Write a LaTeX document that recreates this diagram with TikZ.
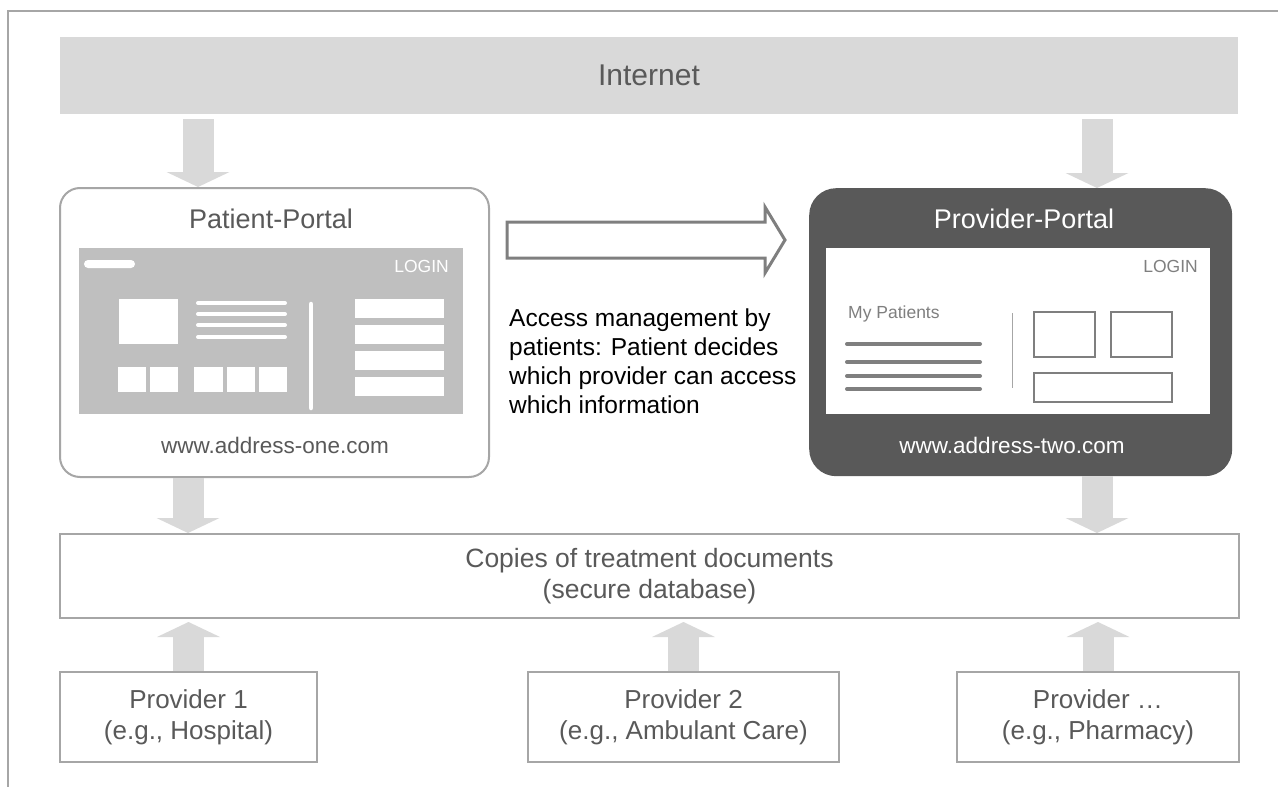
\documentclass[tikz,border=0pt]{standalone}
\usepackage{fontspec}
\setmainfont{Liberation Sans}
\usetikzlibrary{arrows.meta,calc}
\definecolor{tgrey}{HTML}{595959}
\definecolor{lgrey}{HTML}{D9D9D9}
\definecolor{bgrey}{HTML}{A6A6A6}
\definecolor{mgrey}{HTML}{BFBFBF}
\definecolor{dgrey}{HTML}{7F7F7F}
\newcommand{\myfs}[2]{\fontsize{#1}{#2}\selectfont}
\begin{document}
\begin{tikzpicture}[x=1pt,y=-1pt,
  framebox/.style={draw=bgrey, line width=2pt, fill=white, inner sep=0pt, text=tgrey, align=center, anchor=north west},
  blockarrow/.style={draw=lgrey, line width=31pt, -{Triangle[width=63pt,length=15pt,line width=0pt,fill=lgrey]}},
  wline/.style={white, line width=4.5pt, line cap=round},
  gline/.style={dgrey, line width=4.5pt, line cap=round},
  wrect/.style={fill=white},
  orect/.style={draw=dgrey, line width=1.8pt}]
\useasboundingbox (0,0) rectangle (1278,787);
% outer frame
\draw[bgrey, line width=2.5pt] (8,787) -- (8,11) -- (1278,11);
% Internet bar
\node[fill=lgrey, inner sep=0pt, minimum width=1178pt, minimum height=77pt, anchor=north west] (inet) at (60,37) {};
\node[text=tgrey, inner sep=0pt, font=\myfs{30}{30}] (inettxt) at (649,75) {Internet};
% Patient portal
\node[framebox, rounded corners=20pt, minimum width=429pt, minimum height=289pt] (pp) at (59,187) {};
\node[text=tgrey, inner sep=0pt, anchor=base, font=\myfs{27}{27}] (pptitle) at (271,228) {Patient-Portal};
\fill[mgrey] (79,248) rectangle (463,414);
\fill[white, rounded corners=4pt] (84,260) rectangle (135,268);
\node[text=white, inner sep=0pt, anchor=base east, font=\myfs{17.5}{17.5}] (pplogin) at (449,272) {LOGIN};
\fill[wrect] (119,299) rectangle (178,344);
\foreach \yy in {303,314,325,337} \draw[wline, line width=4pt] (198,\yy) -- (285,\yy);
\foreach \xa/\xb in {118/146,150/178,194/223,227/255,259/287} \fill[wrect] (\xa,367) rectangle (\xb,392);
\draw[wline] (311,304) -- (311,408);
\foreach \ya/\yb in {299/318,325/344,351/370,377/396} \fill[wrect] (355,\ya) rectangle (444,\yb);
\node[text=tgrey, inner sep=0pt, anchor=base, font=\myfs{22.5}{22.5}] (ppurl) at (275,453) {www.address-one.com};
% Provider portal
\node[fill=tgrey, rounded corners=27pt, inner sep=0pt, minimum width=423pt, minimum height=288pt, anchor=north west] (vp) at (809,188) {};
\node[text=white, inner sep=0pt, anchor=base, font=\myfs{27}{27}] (vptitle) at (1024,228) {Provider-Portal};
\fill[white] (826,248) rectangle (1210,414);
\node[text=dgrey, inner sep=0pt, anchor=base east, font=\myfs{17.5}{17.5}] (vplogin) at (1198,272) {LOGIN};
\node[text=dgrey, inner sep=0pt, anchor=base west, font=\myfs{17.5}{17.5}] (mypat) at (848,318) {My Patients};
\foreach \yy in {344,362,376,389} \draw[gline, line width=4pt] (847,\yy) -- (980,\yy);
\draw[bgrey, line width=1pt] (1012,313) -- (1012,388);
\draw[orect] (1034,312) rectangle (1095,357);
\draw[orect] (1111,312) rectangle (1172,357);
\draw[orect] (1034,373) rectangle (1172,402);
\node[text=white, inner sep=0pt, anchor=base, font=\myfs{22.5}{22.5}] (vpurl) at (1012,453) {www.address-two.com};
% hollow arrow
\draw[dgrey, line width=3pt, fill=white, line join=miter] (507,222) -- (765,222) -- (765,207) -- (785,240) -- (765,273) -- (765,258) -- (507,258) -- cycle;
\node[inner sep=0pt, anchor=north west, align=left, font=\myfs{24.5}{29}] (access) at (509,309)
  {Access management by\\patients: Patient decides\\which provider can access\\which information};
% database
\node[framebox, minimum width=1179pt, minimum height=84pt, font=\myfs{26.5}{31}] (db) at (59,533)
  {Copies of treatment documents\\(secure database)};
% providers
\node[framebox, minimum width=257pt, minimum height=90pt, font=\myfs{26}{31}] (p1) at (59,671)
  {Provider 1\\(e.g., Hospital)};
\node[framebox, minimum width=311pt, minimum height=90pt, font=\myfs{26}{31}] (p2) at (527,671)
  {Provider 2\\(e.g., Ambulant Care)};
\node[framebox, minimum width=282pt, minimum height=90pt, font=\myfs{26}{31}] (p3) at (956,671)
  {Provider \dots\\(e.g., Pharmacy)};
% block arrows
\coordinate (xa) at (198,0);
\coordinate (xb) at (188,0);
\coordinate (xc) at (1097,0);
\draw[blockarrow] ($(inet.south -| xa)+(0,5)$) -- (pp.north -| xa);
\draw[blockarrow] ($(inet.south -| xc)+(0,5)$) -- (vp.north -| xc);
\draw[blockarrow] (pp.south -| xb) -- (db.north -| xb);
\draw[blockarrow] (vp.south -| xc) -- (db.north -| xc);
\draw[blockarrow, shorten >=3pt] (p1.north) -- (db.south -| p1.north);
\draw[blockarrow, shorten >=3pt] (p2.north) -- (db.south -| p2.north);
\draw[blockarrow, shorten >=3pt] (p3.north) -- (db.south -| p3.north);
\end{tikzpicture}
\end{document}
